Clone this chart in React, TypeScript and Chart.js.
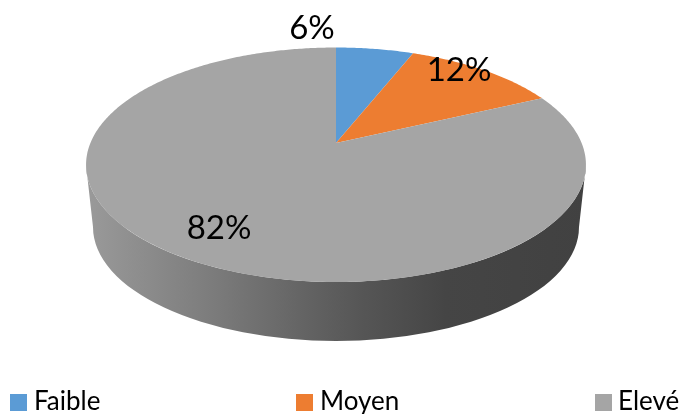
import React, { useEffect, useRef } from "react";
import { Chart, registerables } from "chart.js";

Chart.register(...registerables);

const categories = ["Faible", "Moyen", "Elevé"];
const shares = [6, 12, 82];
const sliceColors = ["#5B9BD5", "#ED7D31", "#A5A5A5"];

const FONT = "Lato, 'Open Sans', sans-serif";
const CX = 336, APEX_Y = 143, R = 245.6, S = 113.2, K = -0.1855;
const labelPos = [[312, 28], [459, 70], [219, 228]];
const legendPos = [[10, 34], [296, 320], [595, 618]];
const LEGEND_BOX_Y = 394, LEGEND_BOX = 17, LEGEND_TEXT_Y = 410;

function project(angle: number): [number, number] {
  const u = Math.cos(angle), v = Math.sin(angle);
  const w = 1 + K * v;
  return [CX + (R * u) / w, APEX_Y + (S * v) / w];
}

const pie3d = {
  id: "pie3d",
  beforeDatasetDraw(chart: any) {
    const ctx = chart.ctx;
    const meta = chart.getDatasetMeta(0);
    ctx.save();
    // side wall
    const g = ctx.createLinearGradient(86, 0, 586, 0);
    g.addColorStop(0, "#9A9A9A");
    g.addColorStop(0.25, "#7C7C7C");
    g.addColorStop(0.45, "#626262");
    g.addColorStop(0.55, "#565656");
    g.addColorStop(0.72, "#454545");
    g.addColorStop(1, "#414141");
    ctx.fillStyle = g;
    ctx.beginPath();
    ctx.ellipse(CX, 164.75, 250, 117.25, 0, Math.PI, 0, true);
    ctx.lineTo(579, 227);
    ctx.ellipse(CX, 227, 243, 114, 0, 0, Math.PI, false);
    ctx.closePath();
    ctx.fill();
    // top face, perspective projection of the library's arc angles
    meta.data.forEach((arc: any, i: number) => {
      const { startAngle, endAngle } = arc;
      const n = Math.max(2, Math.ceil((endAngle - startAngle) * 90));
      ctx.beginPath();
      ctx.moveTo(CX, APEX_Y);
      for (let s = 0; s <= n; s++) {
        const [x, y] = project(startAngle + ((endAngle - startAngle) * s) / n);
        ctx.lineTo(x, y);
      }
      ctx.closePath();
      ctx.fillStyle = sliceColors[i];
      ctx.fill();
    });
    ctx.restore();
    return false;
  },
  afterDraw(chart: any) {
    const ctx = chart.ctx;
    const data = chart.data.datasets[0].data as number[];
    const total = data.reduce((a, b) => a + b, 0);
    ctx.save();
    ctx.fillStyle = "#000";
    ctx.textAlign = "center";
    ctx.textBaseline = "middle";
    ctx.font = `33px ${FONT}`;
    data.forEach((v, i) => {
      ctx.fillText(`${Math.round((v / total) * 100)}%`, labelPos[i][0], labelPos[i][1]);
    });
    ctx.textAlign = "left";
    ctx.textBaseline = "alphabetic";
    ctx.font = `26px ${FONT}`;
    chart.data.labels.forEach((name: string, i: number) => {
      ctx.fillStyle = sliceColors[i];
      ctx.fillRect(legendPos[i][0], LEGEND_BOX_Y, LEGEND_BOX, LEGEND_BOX);
      ctx.fillStyle = "#000";
      ctx.fillText(name, legendPos[i][1], LEGEND_TEXT_Y);
    });
    ctx.restore();
  },
};

export default function App() {
  const ref = useRef<HTMLCanvasElement>(null);
  useEffect(() => {
    const chart = new Chart(ref.current!, {
      type: "pie",
      data: {
        labels: categories,
        datasets: [{ data: shares, backgroundColor: sliceColors, borderWidth: 0 }],
      },
      options: {
        responsive: false,
        animation: false,
        events: [],
        plugins: { legend: { display: false }, tooltip: { enabled: false } },
      },
      plugins: [pie3d],
    } as any);
    return () => chart.destroy();
  }, []);
  return (
    <div style={{ position: "absolute", left: 0, top: 0, width: 681, height: 414 }}>
      <canvas ref={ref} width={681} height={414} style={{ display: "block" }} />
    </div>
  );
}
